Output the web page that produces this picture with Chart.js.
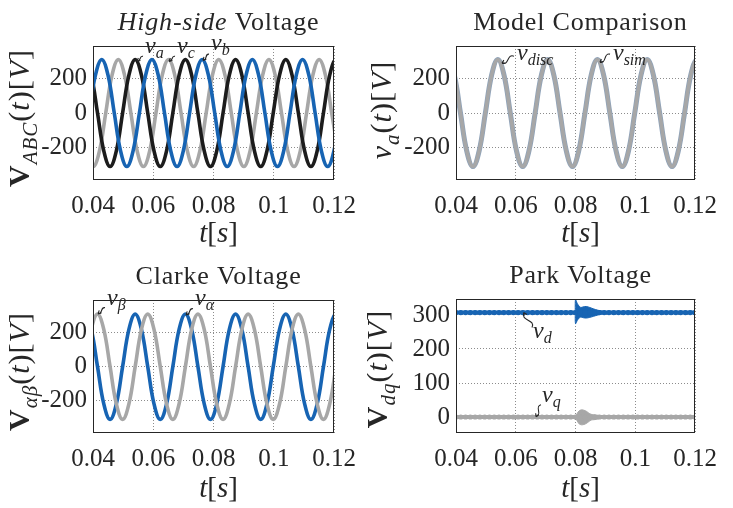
<!DOCTYPE html>
<html>
<head>
<meta charset="utf-8">
<script src="https://cdn.jsdelivr.net/npm/chart.js@4.4.1/dist/chart.umd.min.js"></script>
<style>
  html, body { margin: 0; padding: 0; background: #fff; }
  #wrap { position: relative; width: 733px; height: 508px; }
  .cell { position: absolute; }
  canvas { display: block; }
</style>
</head>
<body>
<div id="wrap">
  <div class="cell" style="left:0;top:0"><canvas id="cHigh" width="367" height="254"></canvas></div>
  <div class="cell" style="left:367px;top:0"><canvas id="cModel" width="366" height="254"></canvas></div>
  <div class="cell" style="left:0;top:254px"><canvas id="cClarke" width="367" height="254"></canvas></div>
  <div class="cell" style="left:367px;top:254px"><canvas id="cPark" width="366" height="254"></canvas></div>
</div>
<script>
// tick labels
const xTicks = [0.04, 0.06, 0.08, 0.1, 0.12];
const xTickLabels = ['0.04', '0.06', '0.08', '0.1', '0.12'];
const yTicksAC = [-200, 0, 200];
const yTickLabelsAC = ['-200', '0', '200'];
const yTicksDQ = [0, 100, 200, 300];
const yTickLabelsDQ = ['0', '100', '200', '300'];

// v_a (also v_alpha, v_disc, v_sim) and v_beta share this time grid
const tA = [0.03733, 0.03942, 0.04150, 0.04358, 0.04567, 0.04775, 0.04983, 0.05192, 0.05400, 0.05608,
  0.05817, 0.06025, 0.06233, 0.06442, 0.06650, 0.06858, 0.07067, 0.07275, 0.07483, 0.07692,
  0.07900, 0.08108, 0.08317, 0.08525, 0.08733, 0.08942, 0.09150, 0.09358, 0.09567, 0.09775,
  0.09983, 0.10192, 0.10400, 0.10608, 0.10817, 0.11025, 0.11233, 0.11442, 0.11650, 0.11858,
  0.12067, 0.12275];
const vA = [310, 219, 0, -219, -310, -219, 0, 219, 310, 219, 0, -219, -310, -219, 0, 219,
  310, 219, 0, -219, -310, -219, 0, 219, 310, 219, 0, -219, -310, -219, 0, 219,
  310, 219, 0, -219, -310, -219, 0, 219, 310, 219];
const vBeta = [0, 219, 310, 219, 0, -219, -310, -219, 0, 219, 310, 219, 0, -219, -310, -219,
  0, 219, 310, 219, 0, -219, -310, -219, 0, 219, 310, 219, 0, -219, -310, -219,
  0, 219, 310, 219, 0, -219, -310, -219, 0, 219];

const tB = [0.03665, 0.03873, 0.04081, 0.04290, 0.04498, 0.04706, 0.04915, 0.05123, 0.05331, 0.05540,
  0.05748, 0.05956, 0.06165, 0.06373, 0.06581, 0.06790, 0.06998, 0.07206, 0.07415, 0.07623,
  0.07831, 0.08040, 0.08248, 0.08456, 0.08665, 0.08873, 0.09081, 0.09290, 0.09498, 0.09706,
  0.09915, 0.10123, 0.10331, 0.10540, 0.10748, 0.10956, 0.11165, 0.11373, 0.11581, 0.11790,
  0.11998, 0.12206];
const vB = [-219, 0, 219, 310, 219, 0, -219, -310, -219, 0, 219, 310, 219, 0, -219, -310,
  -219, 0, 219, 310, 219, 0, -219, -310, -219, 0, 219, 310, 219, 0, -219, -310,
  -219, 0, 219, 310, 219, 0, -219, -310, -219, 0];

const tC = [0.03590, 0.03798, 0.04007, 0.04215, 0.04423, 0.04632, 0.04840, 0.05048, 0.05257, 0.05465,
  0.05673, 0.05882, 0.06090, 0.06298, 0.06507, 0.06715, 0.06923, 0.07132, 0.07340, 0.07548,
  0.07757, 0.07965, 0.08173, 0.08382, 0.08590, 0.08798, 0.09007, 0.09215, 0.09423, 0.09632,
  0.09840, 0.10048, 0.10257, 0.10465, 0.10673, 0.10882, 0.11090, 0.11298, 0.11507, 0.11715,
  0.11923, 0.12132];
const vC = [0, -219, -310, -219, 0, 219, 310, 219, 0, -219, -310, -219, 0, 219, 310, 219,
  0, -219, -310, -219, 0, 219, 310, 219, 0, -219, -310, -219, 0, 219, 310, 219,
  0, -219, -310, -219, 0, 219, 310, 219, 0, -219];

// Park (dq) signals
const tDQ = [0.0400, 0.0416, 0.0432, 0.0448, 0.0464, 0.0480, 0.0496, 0.0512, 0.0528, 0.0544,
  0.0560, 0.0576, 0.0592, 0.0608, 0.0624, 0.0640, 0.0656, 0.0672, 0.0688, 0.0704,
  0.0720, 0.0736, 0.0752, 0.0768, 0.0784, 0.0800, 0.0816, 0.0832, 0.0848, 0.0864,
  0.0880, 0.0896, 0.0912, 0.0928, 0.0944, 0.0960, 0.0976, 0.0992, 0.1008, 0.1024,
  0.1040, 0.1056, 0.1072, 0.1088, 0.1104, 0.1120, 0.1136, 0.1152, 0.1168, 0.1184, 0.1200];
const vD = [307, 307, 307, 307, 307, 307, 307, 307, 307, 307, 307, 307, 307, 307, 307, 307, 307,
  307, 307, 307, 307, 307, 307, 307, 307, 307, 307, 307, 307, 307, 307, 307, 307, 307,
  307, 307, 307, 307, 307, 307, 307, 307, 307, 307, 307, 307, 307, 307, 307, 307, 307];
const vQ = [0, 0, 0, 0, 0, 0, 0, 0, 0, 0, 0, 0, 0, 0, 0, 0, 0, 0, 0, 0, 0, 0, 0, 0, 0, 0,
  0, 0, 0, 0, 0, 0, 0, 0, 0, 0, 0, 0, 0, 0, 0, 0, 0, 0, 0, 0, 0, 0, 0, 0, 0];
// transient envelopes after the step at t = 0.08
const tDEnv = [0.07990, 0.08000, 0.08060, 0.08120, 0.08180, 0.08260, 0.08360, 0.08480, 0.08600, 0.08750, 0.08950];
const vDUpper = [307, 345, 334, 326, 322, 324, 325, 322, 318, 314, 310];
const vDLower = [307, 274, 284, 291, 294, 292, 291, 293, 296, 300, 304];
const tQEnv = [0.0800, 0.0806, 0.0812, 0.0820, 0.0828, 0.0836, 0.0844, 0.0852, 0.0860, 0.0870, 0.0885];
const vQUpper = [2, 11, 18, 21, 20, 17, 12, 8, 7, 6, 3];
const vQLower = [-2, -12, -20, -23, -22, -19, -14, -9, -8, -7, -3];

const BLUE = '#1764b3';
const GRAY = '#a7a7a7';
const BLACK = '#1c1c1c';
const SIMC = '#8fa3ba';
const SERIF = "'Liberation Serif', 'Times New Roman', serif";
const fnt = (style, size) => `${style} ${size}px ${SERIF}`;

Chart.defaults.font.family = SERIF;
Chart.defaults.font.size = 25;
Chart.defaults.color = '#262626';

const zip = (ts, vs) => ts.map((t, i) => ({ x: t, y: vs[i] }));

function line(data, color, width, extra = {}) {
  return Object.assign({
    data, borderColor: color, backgroundColor: color, borderWidth: width,
    pointRadius: 0, tension: 0.4, fill: false, clip: 0
  }, extra);
}

// draws a row of text pieces centred on (x, y), optionally rotated
function drawRich(ctx, parts, x, y, rot, align) {
  ctx.save();
  ctx.translate(x, y);
  if (rot) ctx.rotate(-Math.PI / 2);
  ctx.textBaseline = 'alphabetic';
  ctx.textAlign = 'left';
  ctx.fillStyle = '#262626';
  let total = 0;
  parts.forEach(p => {
    ctx.font = p.font;
    ctx.letterSpacing = (p.ls || 0) + 'px';
    p.w = ctx.measureText(p.t).width;
    total += p.w;
  });
  let cx = align === 'left' ? 0 : -total / 2;
  parts.forEach(p => {
    ctx.font = p.font;
    ctx.letterSpacing = (p.ls || 0) + 'px';
    ctx.fillText(p.t, cx, p.dy || 0);
    cx += p.w;
  });
  ctx.restore();
}

function squiggle(ctx, x0, y0, x1, y1) {
  const dx = x1 - x0, dy = y1 - y0, L = Math.hypot(dx, dy);
  const nx = -dy / L, ny = dx / L, k = 0.45 * L;
  ctx.beginPath();
  ctx.moveTo(x0, y0);
  ctx.bezierCurveTo(x0 + dx * 0.33 + nx * k, y0 + dy * 0.33 + ny * k,
    x0 + dx * 0.66 - nx * k, y0 + dy * 0.66 - ny * k, x1, y1);
  ctx.stroke();
  const ang = Math.atan2(dy, dx), h = 3.5;
  ctx.beginPath();
  ctx.moveTo(x1, y1); ctx.lineTo(x1 - h * Math.cos(ang - 0.5), y1 - h * Math.sin(ang - 0.5));
  ctx.moveTo(x1, y1); ctx.lineTo(x1 - h * Math.cos(ang + 0.5), y1 - h * Math.sin(ang + 0.5));
  ctx.stroke();
}

const decor = {
  id: 'decor',
  afterDraw(chart, args, o) {
    const a = chart.chartArea, ctx = chart.ctx;
    const xs = chart.scales.x, ys = chart.scales.y;
    ctx.save();
    ctx.strokeStyle = '#262626';
    ctx.lineWidth = 1;
    ctx.strokeRect(a.left + 0.5, a.top + 0.5, a.width - 1, a.height - 1);
    ctx.restore();
    const cx = (a.left + a.right) / 2 + 5;
    drawRich(ctx, o.title, cx, a.top - 16);
    drawRich(ctx, [
      { t: 't', font: fnt('italic', 29) },
      { t: '[', font: fnt('normal', 29) },
      { t: 's', font: fnt('italic', 29) },
      { t: ']', font: fnt('normal', 29) }
    ], cx, a.bottom + o.xTitleGap);
    drawRich(ctx, o.yTitle, o.yTitleX, (a.top + a.bottom) / 2 + o.yTitleShift, true);
    ctx.save();
    ctx.strokeStyle = '#262626';
    ctx.lineWidth = 1.1;
    o.notes.forEach(n => {
      const px = xs.getPixelForValue(n.at[0]), py = ys.getPixelForValue(n.at[1]);
      drawRich(ctx, [
        { t: 'v', font: fnt('italic', 24) },
        { t: n.sub, font: fnt('italic', 16), dy: 5 }
      ], px, py, false, 'left');
      squiggle(ctx, xs.getPixelForValue(n.from[0]), ys.getPixelForValue(n.from[1]),
        xs.getPixelForValue(n.tip[0]), ys.getPixelForValue(n.tip[1]));
    });
    ctx.restore();
  }
};

function yTitle(sym, symFont, sub) {
  return [
    { t: sym, font: symFont, ls: 1 },
    { t: sub, font: fnt('italic', 21), dy: 8, ls: 1 },
    { t: '(', font: fnt('normal', 30), ls: 1 },
    { t: 't', font: fnt('italic', 30), ls: 1 },
    { t: ')', font: fnt('normal', 30), ls: 1 },
    { t: '[', font: fnt('normal', 30), ls: 1 },
    { t: 'V', font: fnt('italic', 30), ls: 1 },
    { t: ']', font: fnt('normal', 30), ls: 1 }
  ];
}

function makeChart(id, c) {
  return new Chart(document.getElementById(id), {
    type: 'line',
    data: { datasets: c.datasets },
    options: {
      responsive: false,
      animation: false,
      events: [],
      layout: { padding: { top: c.top, right: c.right, left: 0, bottom: 0 } },
      plugins: {
        legend: { display: false },
        tooltip: { enabled: false },
        decor: c.decor
      },
      scales: {
        x: {
          type: 'linear', min: 0.04, max: 0.12,
          afterBuildTicks: s => { s.ticks = xTicks.map(v => ({ value: v })); },
          afterFit: s => { s.height = c.xHeight; },
          ticks: { autoSkip: false, maxRotation: 0, padding: 11, callback: (v, i) => xTickLabels[i] },
          grid: { color: 'rgba(0,0,0,0.45)', drawTicks: false, lineWidth: 1 },
          border: { display: false, dash: [1, 2] }
        },
        y: {
          type: 'linear', min: c.yMin, max: c.yMax,
          afterBuildTicks: s => { s.ticks = c.yTicks.map(v => ({ value: v })); },
          afterFit: s => { s.width = c.yWidth; },
          ticks: { autoSkip: false, padding: 6, callback: (v, i) => c.yLabels[i] },
          grid: { color: 'rgba(0,0,0,0.45)', drawTicks: false, lineWidth: 1 },
          border: { display: false, dash: [1, 2] }
        }
      }
    },
    plugins: [decor]
  });
}

makeChart('cHigh', {
  top: 46, right: 33, yWidth: 93, xHeight: 74,
  yMin: -388, yMax: 388, yTicks: yTicksAC, yLabels: yTickLabelsAC,
  datasets: [
    line(zip(tB, vB), BLUE, 3.6),
    line(zip(tA, vA), BLACK, 3.6),
    line(zip(tC, vC), GRAY, 3.6)
  ],
  decor: {
    title: [
      { t: 'High-side', font: fnt('italic', 26), ls: 0.8 },
      { t: ' Voltage', font: fnt('normal', 26), ls: 0.8 }
    ],
    xTitleGap: 62, yTitleX: 29, yTitleShift: 5,
    yTitle: yTitle('V', fnt('bold', 30), 'ABC'),
    notes: [
      { sub: 'a', at: [0.05726, 347], from: [0.0566, 328], tip: [0.05461, 300] },
      { sub: 'c', at: [0.06788, 347], from: [0.06722, 328], tip: [0.06523, 300] },
      { sub: 'b', at: [0.07917, 364], from: [0.07851, 341], tip: [0.07651, 306] }
    ]
  }
});

makeChart('cModel', {
  top: 46, right: 38, yWidth: 89, xHeight: 74,
  yMin: -388, yMax: 388, yTicks: yTicksAC, yLabels: yTickLabelsAC,
  datasets: [
    line(zip(tA, vA), GRAY, 3.5),
    line(zip(tA, vA), SIMC, 5)
  ],
  decor: {
    title: [{ t: 'Model Comparison', font: fnt('normal', 26), ls: 0.8 }],
    xTitleGap: 62, yTitleX: 24, yTitleShift: -3,
    yTitle: yTitle('v', fnt('italic', 30), 'a'),
    notes: [
      { sub: 'disc', at: [0.06042, 306], from: [0.05941, 329], tip: [0.05540, 289] },
      { sub: 'sim', at: [0.09255, 306], from: [0.09155, 341], tip: [0.0882, 294] }
    ]
  }
});

makeChart('cClarke', {
  top: 46, right: 33, yWidth: 93, xHeight: 75,
  yMin: -390, yMax: 392, yTicks: yTicksAC, yLabels: yTickLabelsAC,
  datasets: [
    line(zip(tA, vBeta), GRAY, 3.6),
    line(zip(tA, vA), BLUE, 3.6)
  ],
  decor: {
    title: [{ t: 'Clarke Voltage', font: fnt('normal', 26), ls: 0.8 }],
    xTitleGap: 64, yTitleX: 29, yTitleShift: 5,
    yTitle: yTitle('V', fnt('bold', 30), 'αβ'),
    notes: [
      { sub: 'β', at: [0.04465, 364], from: [0.04398, 347], tip: [0.04166, 312] },
      { sub: 'α', at: [0.07386, 364], from: [0.07319, 341], tip: [0.07087, 306] }
    ]
  }
});

makeChart('cPark', {
  top: 45, right: 38, yWidth: 89, xHeight: 75,
  yMin: -47, yMax: 347, yTicks: yTicksDQ, yLabels: yTickLabelsDQ,
  datasets: [
    line(zip(tDQ, vD), BLUE, 4, { pointRadius: 2.6, pointBorderWidth: 0, tension: 0 }),
    line(zip(tDEnv, vDUpper), BLUE, 1, { tension: 0.3 }),
    line(zip(tDEnv, vDLower), BLUE, 1, { tension: 0.3, fill: '-1' }),
    line(zip(tDQ, vQ), GRAY, 4, { pointRadius: 2.6, pointBorderWidth: 0, tension: 0 }),
    line(zip(tQEnv, vQUpper), GRAY, 1, { tension: 0.3 }),
    line(zip(tQEnv, vQLower), GRAY, 1, { tension: 0.3, fill: '-1' })
  ],
  decor: {
    title: [{ t: 'Park Voltage', font: fnt('normal', 26), ls: 0.8 }],
    xTitleGap: 64, yTitleX: 20, yTitleShift: 3,
    yTitle: yTitle('V', fnt('bold', 30), 'dq'),
    notes: [
      { sub: 'd', at: [0.06577, 233], from: [0.06544, 263], tip: [0.06276, 307] },
      { sub: 'q', at: [0.06879, 45], from: [0.06845, 36], tip: [0.06678, 1] }
    ]
  }
});
</script>
</body>
</html>
